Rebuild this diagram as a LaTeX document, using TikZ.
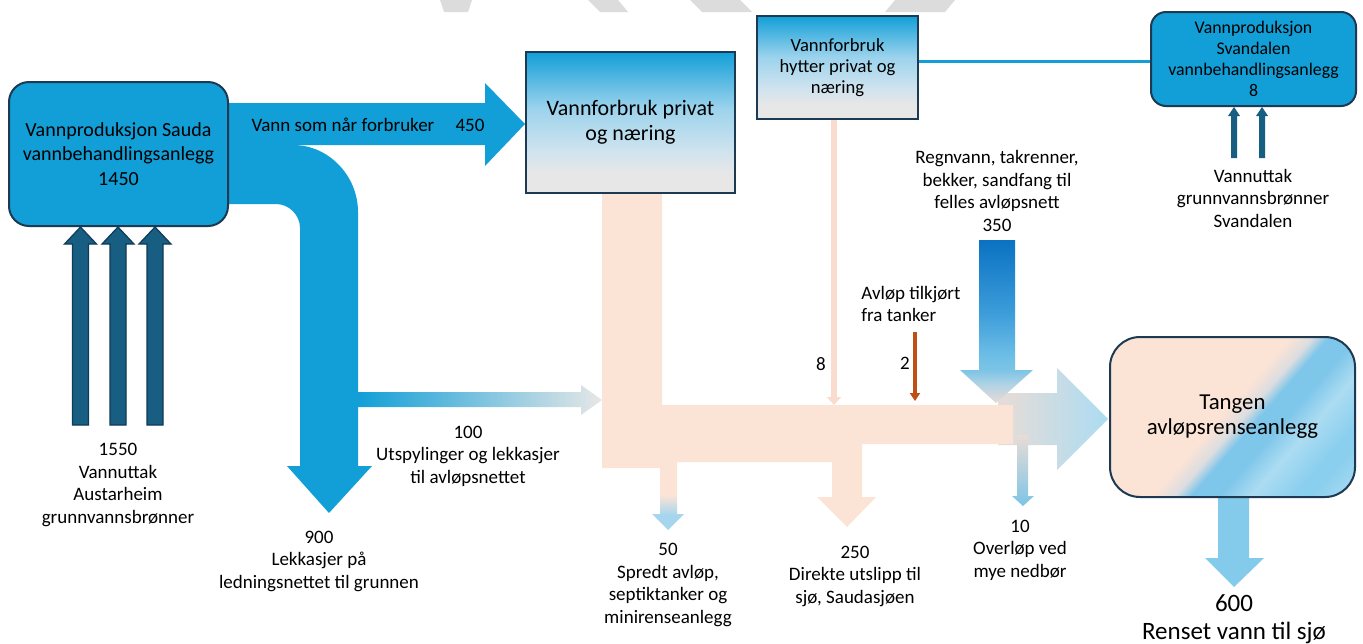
\documentclass[tikz,border=0pt]{standalone}
\usepackage{fontspec}
\setmainfont{Carlito}
\usepackage{xcolor}
\usetikzlibrary{arrows.meta,calc}
\tikzset{>=latex}

\definecolor{vannbla}{HTML}{129FD7}
\definecolor{morkbla}{HTML}{175E82}
\definecolor{kantmork}{HTML}{0E3B56}
\definecolor{kantbla}{HTML}{1E3A52}
\definecolor{fersken}{HTML}{FBE3D6}
\definecolor{ferskenmork}{HTML}{F9DCCD}
\definecolor{lysbla}{HTML}{84CBEB}
\definecolor{oransje}{HTML}{C04F15}
\definecolor{gra}{HTML}{E7E7E7}
\definecolor{vmerke}{HTML}{DCDCDC}
\definecolor{fmid}{HTML}{9CD3ED}
\definecolor{ffade}{HTML}{CFE3EE}
\definecolor{rtop}{HTML}{0A72C2}
\definecolor{rmid}{HTML}{3D9DDA}
\definecolor{rlys}{HTML}{6BBDE6}
\definecolor{rbase}{HTML}{7DC4E6}
\definecolor{rhode}{HTML}{B3D3E4}
\definecolor{rtupp}{HTML}{E8DCD6}
\definecolor{tgra}{HTML}{DCDDE0}
\definecolor{tbla}{HTML}{7EC6EA}
\definecolor{tlys}{HTML}{ACDCF2}
\definecolor{tbla2}{HTML}{8ACFEE}
\definecolor{spredtbla}{HTML}{A6D6EE}

\pgfdeclareverticalshading{forbruk}{100bp}{color(0bp)=(gra); color(32bp)=(gra); color(40bp)=(ffade); color(55bp)=(fmid); color(75bp)=(vannbla); color(100bp)=(vannbla)}
\pgfdeclareverticalshading{regn}{100bp}{color(0bp)=(rtupp); color(25bp)=(rtupp); color(30.5bp)=(rhode); color(35bp)=(rbase); color(40bp)=(rlys); color(52.5bp)=(rmid); color(75bp)=(rtop); color(100bp)=(rtop)}
\pgfdeclareverticalshading{spredt}{100bp}{color(0bp)=(spredtbla); color(36bp)=(spredtbla); color(50bp)=(fersken); color(100bp)=(fersken)}
\pgfdeclarehorizontalshading{tangen}{100bp}{color(0bp)=(fersken); color(48bp)=(fersken); color(52bp)=(tgra); color(55bp)=(tbla); color(60bp)=(tbla); color(66bp)=(tlys); color(74bp)=(tbla2); color(77bp)=(tbla2); color(85bp)=(tlys); color(100bp)=(tlys)}

\tikzset{
  boks/.style={draw=kantbla, line width=1pt, align=center, inner sep=0pt},
  tekst/.style={align=center, inner sep=0pt, font=\fontsize{9.5}{11.25}\selectfont},
}

\begin{document}
\begin{tikzpicture}[x=0.5pt,y=-0.5pt]
  \fill[white] (0,0) rectangle (1363,643);
  \useasboundingbox (0,0) rectangle (1363,643);
  % watermark
  \fill[vmerke] (440,0) -- (472,0) -- (468,12) -- (444,12) -- cycle;
  \fill[vmerke] (588,0) -- (618,0) -- (628,12) -- (600,12) -- cycle;
  \fill[vmerke] (690,0) -- (740,0) -- (752,12) -- (702,12) -- cycle;
  \fill[vmerke] (895,0) -- (955,0) -- (945,12) -- (885,12) -- cycle;

  % blue flows from Sauda
  \fill[vannbla] (226,103) -- (485,103) -- (485,83) -- (525,124) -- (485,166) -- (485,145) -- (226,145) -- cycle;
  \fill[vannbla] (226,145) -- (293,145) .. controls (329,145) and (358,176) .. (358,212)
    -- (358,466) -- (372,466) -- (329,513) -- (287,466) -- (300,466) -- (300,228)
    .. controls (300,215) and (289,204) .. (276,204) -- (226,204) -- cycle;
  \shade[left color=vannbla, middle color=fmid, right color=gra] (358,392) -- (581,392) -- (581,385) -- (602,400) -- (581,415) -- (581,407) -- (358,407) -- cycle;

  \node[boks, fill=vannbla, rounded corners=10pt, minimum width=109.5pt, minimum height=72pt, font=\fontsize{10}{12.25}\selectfont] (sauda) at (118.5,154) {Vannproduksjon Sauda\\vannbehandlingsanlegg\\1450};
  \foreach \x in {80.5,118,155}
    \filldraw[fill=morkbla, draw=kantmork, line width=0.6pt] (\x-8,425) -- (\x+8,425) -- (\x+8,244) -- (\x+16,244) -- (\x,227) -- (\x-16,244) -- (\x-8,244) -- cycle;

  % wastewater
  \shade[left color=rtupp, right color=tlys] (998,393) -- (1057,393) -- (1057,368) -- (1108,419) -- (1057,470) -- (1057,445) -- (998,445) -- cycle;
  \fill[fersken] (602,193) -- (662,193) -- (662,405) -- (1013,405) -- (1013,444) -- (862,444) -- (862,497) -- (876,497) -- (847,527) -- (817,497) -- (832,497) -- (832,462) -- (660,462) -- (660,468) -- (602,468) -- cycle;
  \shade[shading=spredt] (660,461) -- (677,461) -- (677,514) -- (684,514) -- (668,530) -- (652,514) -- (660,514) -- cycle;
  \shade[shading=regn] (979,240) -- (1015,240) -- (1015,370) -- (1033,370) -- (996,403) -- (960,370) -- (979,370) -- cycle;
  \shade[top color=rtupp, bottom color=rbase] (1017,435) -- (1028,435) -- (1028,496) -- (1034,496) -- (1023,506) -- (1012,496) -- (1017,496) -- cycle;
  \fill[lysbla] (1218,490) -- (1249,490) -- (1249,558) -- (1264,558) -- (1234,587) -- (1205,558) -- (1218,558) -- cycle;

  \node[boks, shade, shading=forbruk, minimum width=104.5pt, minimum height=70.5pt, font=\fontsize{11}{12.5}\selectfont] (privat) at (630.5,122.5) {Vannforbruk privat\\og næring};
  \node[boks, shade, shading=forbruk, minimum width=80.5pt, minimum height=51.5pt, font=\fontsize{9.3}{10.5}\selectfont] (hytter) at (837.5,67.5) {Vannforbruk\\hytter privat og\\næring};
  \node[boks, fill=vannbla, rounded corners=7.5pt, minimum width=102.5pt, minimum height=47pt, font=\fontsize{8.9}{10.6}\selectfont] (svand) at (1253.5,59) {Vannproduksjon\\Svandalen\\vannbehandlingsanlegg\\8};
  \node[boks, shade, shading=tangen, shading angle=-41, rounded corners=15pt, minimum width=122.5pt, minimum height=80pt, font=\fontsize{11.4}{12.5}\selectfont] (tangen) at (1232.5,417) {Tangen\\avløpsrenseanlegg};

  \draw[vannbla, line width=1.5pt] ([yshift=3.25pt]hytter.east) -- ([yshift=3.25pt]hytter.east -| svand.west);
  \coordinate (tynn) at (834,405);
  \draw[ferskenmork, line width=3pt, -{Triangle[width=7pt,length=4pt]}] (hytter.south -| tynn) -- (tynn);
  \coordinate (tankfra) at (915,332);
  \coordinate (tanktil) at (915,401);
  \draw[oransje, line width=2pt, -{Triangle[width=5pt,length=4pt]}] (tankfra) -- (tanktil);
  \foreach \x in {1234,1262}
    \fill[morkbla] (\x-3,158) -- (\x+3,158) -- (\x+3,116) -- (\x+6,116) -- (\x,107) -- (\x-6,116) -- (\x-3,116) -- cycle;

  % labels
  \node[tekst] (vannforbr) at (343,125) {Vann som når forbruker};
  \node[tekst] (v450) at (470,125) {450};
  \node[tekst] (austar) at (118,485) {1550\\Vannuttak\\Austarheim\\grunnvannsbrønner};
  \node[tekst] (lekk) at (319,561) {900\\Lekkasjer på\\ledningsnettet til grunnen};
  \node[tekst] (utspyl) at (468,456) {100\\Utspylinger og lekkasjer\\til avløpsnettet};
  \node[tekst] (regn) at (997,191) {Regnvann, takrenner,\\bekker, sandfang til\\felles avløpsnett\\350};
  \node[tekst, align=left, anchor=west] (tanker) at (861,304) {Avløp tilkjørt\\fra tanker};
  \node[tekst] (n8) at (821,364) {8};
  \node[tekst] (n2) at (905,363) {2};
  \node[tekst] (overlop) at (1020,550) {10\\Overløp ved\\mye nedbør};
  \node[tekst] (spredt) at (668,585) {50\\Spredt avløp,\\septiktanker og\\minirenseanlegg};
  \node[tekst] (direkte) at (855,576) {250\\Direkte utslipp til\\sjø, Saudasjøen};
  \node[tekst] (svuttak) at (1253,198) {Vannuttak\\grunnvannsbrønner\\Svandalen};
  \node[tekst, font=\fontsize{12.5}{14}\selectfont] (renset) at (1234,619) {600\\Renset vann til sjø};
\end{tikzpicture}
\end{document}
